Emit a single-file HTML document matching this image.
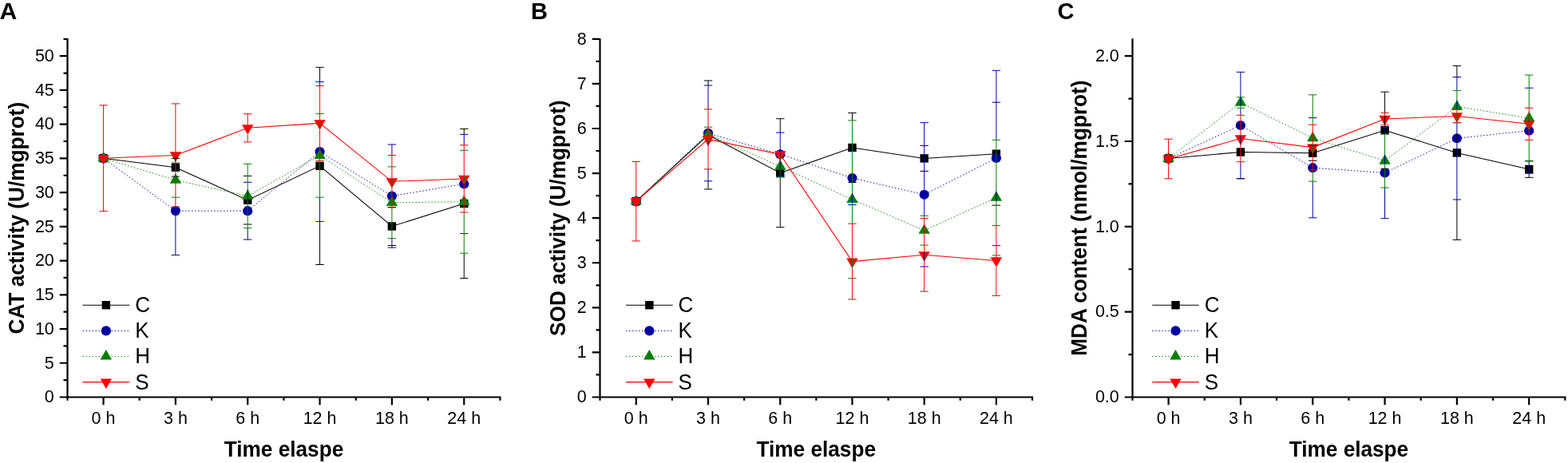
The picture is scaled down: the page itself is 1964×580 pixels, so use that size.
<!DOCTYPE html>
<html><head><meta charset="utf-8"><title>Chart</title>
<style>
html,body{margin:0;padding:0;background:#fff;}
body{width:1964px;height:580px;overflow:hidden;}
svg{display:block;}
text{font-family:"Liberation Sans", Arial, sans-serif;fill:#000;}
.tk{font-size:21.5px;}
.tt{font-size:26.2px;font-weight:bold;}
.lg{font-size:26px;}
.lb{font-size:29px;font-weight:bold;}
</style></head>
<body>
<svg width="1964" height="580" viewBox="0 0 1964 580">
<rect width="1964" height="580" fill="#fff"/>
<polyline points="129.55,198.2 219.89,209.7 310.23,250.7 400.57,207.9 490.91,283.5 581.25,255" fill="none" stroke="#000" stroke-width="1.05"/>
<polyline points="129.55,198.2 219.89,264.1 310.23,264.2 400.57,190 490.91,245.6 581.25,230.5" fill="none" stroke="#0000a0" stroke-width="0.9" stroke-dasharray="1.6 2.4"/>
<polyline points="129.55,198.2 219.89,225.6 310.23,245.5 400.57,194.8 490.91,253.8 581.25,252.75" fill="none" stroke="#008000" stroke-width="0.9" stroke-dasharray="1.6 2.4"/>
<polyline points="129.55,198.3 219.89,194.5 310.23,160.3 400.57,154.4 490.91,227.3 581.25,223.9" fill="none" stroke="#ff0000" stroke-width="1.05"/>
<rect x="124.35" y="193" width="10.4" height="10.4" fill="#000000"/>
<rect x="214.69" y="204.5" width="10.4" height="10.4" fill="#000000"/>
<rect x="305.03" y="245.5" width="10.4" height="10.4" fill="#000000"/>
<rect x="395.37" y="202.7" width="10.4" height="10.4" fill="#000000"/>
<rect x="485.71" y="278.3" width="10.4" height="10.4" fill="#000000"/>
<rect x="576.05" y="249.8" width="10.4" height="10.4" fill="#000000"/>
<circle cx="129.55" cy="198.2" r="6.1" fill="#0000a0"/>
<circle cx="219.89" cy="264.1" r="6.1" fill="#0000a0"/>
<circle cx="310.23" cy="264.2" r="6.1" fill="#0000a0"/>
<circle cx="400.57" cy="190" r="6.1" fill="#0000a0"/>
<circle cx="490.91" cy="245.6" r="6.1" fill="#0000a0"/>
<circle cx="581.25" cy="230.5" r="6.1" fill="#0000a0"/>
<polygon points="129.55,189.9 136.74,202.35 122.36,202.35" fill="#008000"/>
<polygon points="219.89,217.3 227.08,229.75 212.7,229.75" fill="#008000"/>
<polygon points="310.23,237.2 317.42,249.65 303.04,249.65" fill="#008000"/>
<polygon points="400.57,186.5 407.76,198.95 393.38,198.95" fill="#008000"/>
<polygon points="490.91,245.5 498.1,257.95 483.72,257.95" fill="#008000"/>
<polygon points="581.25,244.45 588.44,256.9 574.06,256.9" fill="#008000"/>
<polygon points="129.55,206.6 136.74,194.15 122.36,194.15" fill="#ff0000"/>
<polygon points="219.89,202.8 227.08,190.35 212.7,190.35" fill="#ff0000"/>
<polygon points="310.23,168.6 317.42,156.15 303.04,156.15" fill="#ff0000"/>
<polygon points="400.57,162.7 407.76,150.25 393.38,150.25" fill="#ff0000"/>
<polygon points="490.91,235.6 498.1,223.15 483.72,223.15" fill="#ff0000"/>
<polygon points="581.25,232.2 588.44,219.75 574.06,219.75" fill="#ff0000"/>
<path d="M219.89 198.3V202.8M400.57 84.3V102.6M400.57 277.4V331.5M581.25 161.4V168.4M581.25 317.2V348.6M214.69 198.3H225.09M214.69 221.1H225.09M305.03 220.4H315.43M305.03 281H315.43M395.37 84.3H405.77M395.37 331.5H405.77M485.71 259.5H496.11M485.71 307.5H496.11M576.05 161.4H586.45M576.05 348.6H586.45" stroke="#000000" stroke-width="1" fill="none"/>
<path d="M219.89 270.2V319.5M310.23 237.2V249.65M310.23 285.7V300.1M400.57 102.6V107.5M400.57 247.2V277.4M490.91 181V194.6M490.91 298.7V310.2M581.25 168.4V181.8M214.69 208.7H225.09M214.69 319.5H225.09M305.03 228.3H315.43M305.03 300.1H315.43M395.37 102.6H405.77M395.37 277.4H405.77M485.71 181H496.11M485.71 310.2H496.11M576.05 168.4H586.45M576.05 292.6H586.45" stroke="#0000a0" stroke-width="1" fill="none"/>
<path d="M310.23 205.3V237.2M310.23 249.65V285.7M400.57 150.25V162.7M400.57 201.3V247.2M490.91 223.15V235.6M490.91 260V298.7M581.25 219.75V232.2M581.25 266V317.2M214.69 204H225.09M214.69 247.2H225.09M305.03 205.3H315.43M305.03 285.7H315.43M395.37 142.4H405.77M395.37 247.2H405.77M485.71 208.9H496.11M485.71 298.7H496.11M576.05 188.3H586.45M576.05 317.2H586.45" stroke="#008000" stroke-width="1" fill="none"/>
<path d="M129.55 131.9V194.15M129.55 206.6V264.7M219.89 129.9V190.35M219.89 202.8V259.1M310.23 142.7V156.15M310.23 168.6V177.9M400.57 107.5V150.25M400.57 162.7V201.3M490.91 194.6V223.15M490.91 235.6V260M581.25 181.8V219.75M581.25 232.2V266M124.35 131.9H134.75M124.35 264.7H134.75M214.69 129.9H225.09M214.69 259.1H225.09M305.03 142.7H315.43M305.03 177.9H315.43M395.37 107.5H405.77M395.37 201.3H405.77M485.71 194.6H496.11M485.71 260H496.11M576.05 181.8H586.45M576.05 266H586.45" stroke="#ff0000" stroke-width="1" fill="none"/>
<path d="M84.5 48.2V501.8M74.7 497.5H627.52M79.5 476.13H84.5M74.7 454.77H84.5M79.5 433.4H84.5M74.7 412.03H84.5M79.5 390.67H84.5M74.7 369.3H84.5M79.5 347.93H84.5M74.7 326.57H84.5M79.5 305.2H84.5M74.7 283.83H84.5M79.5 262.47H84.5M74.7 241.1H84.5M79.5 219.73H84.5M74.7 198.37H84.5M79.5 177H84.5M74.7 155.63H84.5M79.5 134.27H84.5M74.7 112.9H84.5M79.5 91.53H84.5M74.7 70.17H84.5M79.5 48.8H84.5M129.55 497.5V507.3M219.89 497.5V507.3M310.23 497.5V507.3M400.57 497.5V507.3M490.91 497.5V507.3M581.25 497.5V507.3M174.72 497.5V501.8M265.06 497.5V501.8M355.4 497.5V501.8M445.74 497.5V501.8M536.08 497.5V501.8M626.42 497.5V501.8" stroke="#000" stroke-width="2.2" fill="none"/>
<text transform="translate(67.8 504.3) scale(1 1.05)" class="tk" text-anchor="end">0</text>
<text transform="translate(67.8 461.57) scale(1 1.05)" class="tk" text-anchor="end">5</text>
<text transform="translate(67.8 418.83) scale(1 1.05)" class="tk" text-anchor="end">10</text>
<text transform="translate(67.8 376.1) scale(1 1.05)" class="tk" text-anchor="end">15</text>
<text transform="translate(67.8 333.37) scale(1 1.05)" class="tk" text-anchor="end">20</text>
<text transform="translate(67.8 290.63) scale(1 1.05)" class="tk" text-anchor="end">25</text>
<text transform="translate(67.8 247.9) scale(1 1.05)" class="tk" text-anchor="end">30</text>
<text transform="translate(67.8 205.17) scale(1 1.05)" class="tk" text-anchor="end">35</text>
<text transform="translate(67.8 162.43) scale(1 1.05)" class="tk" text-anchor="end">40</text>
<text transform="translate(67.8 119.7) scale(1 1.05)" class="tk" text-anchor="end">45</text>
<text transform="translate(67.8 76.97) scale(1 1.05)" class="tk" text-anchor="end">50</text>
<text transform="translate(129.55 530.5) scale(1 1.05)" class="tk" text-anchor="middle">0 h</text>
<text transform="translate(219.89 530.5) scale(1 1.05)" class="tk" text-anchor="middle">3 h</text>
<text transform="translate(310.23 530.5) scale(1 1.05)" class="tk" text-anchor="middle">6 h</text>
<text transform="translate(400.57 530.5) scale(1 1.05)" class="tk" text-anchor="middle">12 h</text>
<text transform="translate(490.91 530.5) scale(1 1.05)" class="tk" text-anchor="middle">18 h</text>
<text transform="translate(581.25 530.5) scale(1 1.05)" class="tk" text-anchor="middle">24 h</text>
<text transform="translate(355.46 571.5) scale(1 1.05)" class="tt" text-anchor="middle">Time elaspe</text>
<text transform="translate(30.3 273.15) rotate(-90) scale(1 1.05)" class="tt" text-anchor="middle">CAT activity (U/mgprot)</text>
<text transform="translate(-0.6 23.6) scale(1.04 1.04)" class="lb">A</text>
<line x1="103.5" y1="382.2" x2="162.2" y2="382.2" stroke="#000" stroke-width="1.05"/>
<rect x="127.65" y="377" width="10.4" height="10.4" fill="#000000"/>
<text transform="translate(169.2 391.2) scale(1 1.05)" class="lg">C</text>
<line x1="103.5" y1="414.4" x2="162.2" y2="414.4" stroke="#0000a0" stroke-width="0.9" stroke-dasharray="1.6 2.4"/>
<circle cx="132.85" cy="414.4" r="6.1" fill="#0000a0"/>
<text transform="translate(169.2 423.4) scale(1 1.05)" class="lg">K</text>
<line x1="103.5" y1="446.4" x2="162.2" y2="446.4" stroke="#008000" stroke-width="0.9" stroke-dasharray="1.6 2.4"/>
<polygon points="132.85,438.1 140.04,450.55 125.66,450.55" fill="#008000"/>
<text transform="translate(169.2 455.4) scale(1 1.05)" class="lg">H</text>
<line x1="103.5" y1="478.6" x2="162.2" y2="478.6" stroke="#ff0000" stroke-width="1.05"/>
<polygon points="132.85,486.9 140.04,474.45 125.66,474.45" fill="#ff0000"/>
<text transform="translate(169.2 487.6) scale(1 1.05)" class="lg">S</text>
<polyline points="796.8,252.2 887.02,169 977.24,216.7 1067.46,185 1157.68,198.4 1247.9,192.7" fill="none" stroke="#000" stroke-width="1.05"/>
<polyline points="796.8,252.2 887.02,166.9 977.24,193.3 1067.46,223 1157.68,243.8 1247.9,198" fill="none" stroke="#0000a0" stroke-width="0.9" stroke-dasharray="1.6 2.4"/>
<polyline points="796.8,252.2 887.02,168.2 977.24,208.6 1067.46,249.8 1157.68,288.7 1247.9,247.6" fill="none" stroke="#008000" stroke-width="0.9" stroke-dasharray="1.6 2.4"/>
<polyline points="796.8,252.2 887.02,174.4 977.24,193.4 1067.46,327.6 1157.68,319.3 1247.9,326.5" fill="none" stroke="#ff0000" stroke-width="1.05"/>
<rect x="791.6" y="247" width="10.4" height="10.4" fill="#000000"/>
<rect x="881.82" y="163.8" width="10.4" height="10.4" fill="#000000"/>
<rect x="972.04" y="211.5" width="10.4" height="10.4" fill="#000000"/>
<rect x="1062.26" y="179.8" width="10.4" height="10.4" fill="#000000"/>
<rect x="1152.48" y="193.2" width="10.4" height="10.4" fill="#000000"/>
<rect x="1242.7" y="187.5" width="10.4" height="10.4" fill="#000000"/>
<circle cx="796.8" cy="252.2" r="6.1" fill="#0000a0"/>
<circle cx="887.02" cy="166.9" r="6.1" fill="#0000a0"/>
<circle cx="977.24" cy="193.3" r="6.1" fill="#0000a0"/>
<circle cx="1067.46" cy="223" r="6.1" fill="#0000a0"/>
<circle cx="1157.68" cy="243.8" r="6.1" fill="#0000a0"/>
<circle cx="1247.9" cy="198" r="6.1" fill="#0000a0"/>
<polygon points="796.8,243.9 803.99,256.35 789.61,256.35" fill="#008000"/>
<polygon points="887.02,159.9 894.21,172.35 879.83,172.35" fill="#008000"/>
<polygon points="977.24,200.3 984.43,212.75 970.05,212.75" fill="#008000"/>
<polygon points="1067.46,241.5 1074.65,253.95 1060.27,253.95" fill="#008000"/>
<polygon points="1157.68,280.4 1164.87,292.85 1150.49,292.85" fill="#008000"/>
<polygon points="1247.9,239.3 1255.09,251.75 1240.71,251.75" fill="#008000"/>
<polygon points="796.8,260.5 803.99,248.05 789.61,248.05" fill="#ff0000"/>
<polygon points="887.02,182.7 894.21,170.25 879.83,170.25" fill="#ff0000"/>
<polygon points="977.24,201.7 984.43,189.25 970.05,189.25" fill="#ff0000"/>
<polygon points="1067.46,335.9 1074.65,323.45 1060.27,323.45" fill="#ff0000"/>
<polygon points="1157.68,327.6 1164.87,315.15 1150.49,315.15" fill="#ff0000"/>
<polygon points="1247.9,334.8 1255.09,322.35 1240.71,322.35" fill="#ff0000"/>
<path d="M887.02 101V107M887.02 226.8V237M977.24 148.7V166.1M977.24 187.2V195.2M977.24 222V284.7M1067.46 141.4V150.9M881.82 101H892.22M881.82 237H892.22M972.04 148.7H982.44M972.04 284.7H982.44M1062.26 141.4H1072.66M1062.26 228.6H1072.66M1152.48 182.4H1162.88M1152.48 214.4H1162.88M1242.7 128.2H1253.1M1242.7 257.2H1253.1" stroke="#000000" stroke-width="1" fill="none"/>
<path d="M887.02 107V136.9M887.02 177.2V182.7M887.02 211.9V226.8M977.24 166.1V187.2M977.24 200.3V212.75M1067.46 241.5V253.95M1157.68 153.6V237.7M1157.68 249.9V270.3M1157.68 315.15V327.6M1247.9 88.3V175.3M1247.9 239.3V251.75M881.82 107H892.22M881.82 226.8H892.22M972.04 166.1H982.44M972.04 220.5H982.44M1062.26 189.5H1072.66M1062.26 256.5H1072.66M1152.48 153.6H1162.88M1152.48 334H1162.88M1242.7 88.3H1253.1M1242.7 307.7H1253.1" stroke="#0000a0" stroke-width="1" fill="none"/>
<path d="M887.02 172.35V177.2M977.24 195.2V200.3M977.24 212.75V222M1067.46 150.9V241.5M1067.46 253.95V280.2M1067.46 323.45V335.9M1157.68 270.3V273.5M1247.9 175.3V239.3M1247.9 251.75V282.6M881.82 159.2H892.22M881.82 177.2H892.22M972.04 195.2H982.44M972.04 222H982.44M1062.26 150.9H1072.66M1062.26 348.7H1072.66M1152.48 270.3H1162.88M1152.48 307.1H1162.88M1242.7 175.3H1253.1M1242.7 319.9H1253.1" stroke="#008000" stroke-width="1" fill="none"/>
<path d="M796.8 202.5V248.05M796.8 260.5V301.9M887.02 136.9V170.25M887.02 182.7V211.9M1067.46 280.2V323.45M1067.46 335.9V375M1157.68 273.5V315.15M1157.68 327.6V365.1M1247.9 282.6V322.35M1247.9 334.8V370.4M791.6 202.5H802M791.6 301.9H802M881.82 136.9H892.22M881.82 211.9H892.22M972.04 191.4H982.44M972.04 195.4H982.44M1062.26 280.2H1072.66M1062.26 375H1072.66M1152.48 273.5H1162.88M1152.48 365.1H1162.88M1242.7 282.6H1253.1M1242.7 370.4H1253.1" stroke="#ff0000" stroke-width="1" fill="none"/>
<path d="M751.5 48.2V501.8M741.7 497.5H1294.11M746.5 469.46H751.5M741.7 441.41H751.5M746.5 413.37H751.5M741.7 385.32H751.5M746.5 357.28H751.5M741.7 329.24H751.5M746.5 301.19H751.5M741.7 273.15H751.5M746.5 245.11H751.5M741.7 217.06H751.5M746.5 189.02H751.5M741.7 160.98H751.5M746.5 132.93H751.5M741.7 104.89H751.5M746.5 76.84H751.5M741.7 48.8H751.5M796.8 497.5V507.3M887.02 497.5V507.3M977.24 497.5V507.3M1067.46 497.5V507.3M1157.68 497.5V507.3M1247.9 497.5V507.3M841.91 497.5V501.8M932.13 497.5V501.8M1022.35 497.5V501.8M1112.57 497.5V501.8M1202.79 497.5V501.8M1293.01 497.5V501.8" stroke="#000" stroke-width="2.2" fill="none"/>
<text transform="translate(734.8 504.3) scale(1 1.05)" class="tk" text-anchor="end">0</text>
<text transform="translate(734.8 448.21) scale(1 1.05)" class="tk" text-anchor="end">1</text>
<text transform="translate(734.8 392.12) scale(1 1.05)" class="tk" text-anchor="end">2</text>
<text transform="translate(734.8 336.04) scale(1 1.05)" class="tk" text-anchor="end">3</text>
<text transform="translate(734.8 279.95) scale(1 1.05)" class="tk" text-anchor="end">4</text>
<text transform="translate(734.8 223.86) scale(1 1.05)" class="tk" text-anchor="end">5</text>
<text transform="translate(734.8 167.78) scale(1 1.05)" class="tk" text-anchor="end">6</text>
<text transform="translate(734.8 111.69) scale(1 1.05)" class="tk" text-anchor="end">7</text>
<text transform="translate(734.8 55.6) scale(1 1.05)" class="tk" text-anchor="end">8</text>
<text transform="translate(796.8 530.5) scale(1 1.05)" class="tk" text-anchor="middle">0 h</text>
<text transform="translate(887.02 530.5) scale(1 1.05)" class="tk" text-anchor="middle">3 h</text>
<text transform="translate(977.24 530.5) scale(1 1.05)" class="tk" text-anchor="middle">6 h</text>
<text transform="translate(1067.46 530.5) scale(1 1.05)" class="tk" text-anchor="middle">12 h</text>
<text transform="translate(1157.68 530.5) scale(1 1.05)" class="tk" text-anchor="middle">18 h</text>
<text transform="translate(1247.9 530.5) scale(1 1.05)" class="tk" text-anchor="middle">24 h</text>
<text transform="translate(1022.25 571.5) scale(1 1.05)" class="tt" text-anchor="middle">Time elaspe</text>
<text transform="translate(707.7 273.15) rotate(-90) scale(1 1.05)" class="tt" text-anchor="middle">SOD activity (U/mgprot)</text>
<text transform="translate(665 23.6) scale(1 1.04)" class="lb">B</text>
<line x1="784" y1="382.2" x2="842.7" y2="382.2" stroke="#000" stroke-width="1.05"/>
<rect x="808.15" y="377" width="10.4" height="10.4" fill="#000000"/>
<text transform="translate(849.6 391.2) scale(1 1.05)" class="lg">C</text>
<line x1="784" y1="414.4" x2="842.7" y2="414.4" stroke="#0000a0" stroke-width="0.9" stroke-dasharray="1.6 2.4"/>
<circle cx="813.35" cy="414.4" r="6.1" fill="#0000a0"/>
<text transform="translate(849.6 423.4) scale(1 1.05)" class="lg">K</text>
<line x1="784" y1="446.4" x2="842.7" y2="446.4" stroke="#008000" stroke-width="0.9" stroke-dasharray="1.6 2.4"/>
<polygon points="813.35,438.1 820.54,450.55 806.16,450.55" fill="#008000"/>
<text transform="translate(849.6 455.4) scale(1 1.05)" class="lg">H</text>
<line x1="784" y1="478.6" x2="842.7" y2="478.6" stroke="#ff0000" stroke-width="1.05"/>
<polygon points="813.35,486.9 820.54,474.45 806.16,474.45" fill="#ff0000"/>
<text transform="translate(849.6 487.6) scale(1 1.05)" class="lg">S</text>
<polyline points="1463.6,198.5 1553.92,190.5 1644.24,191.7 1734.56,163.2 1824.88,191.4 1915.2,212" fill="none" stroke="#000" stroke-width="1.05"/>
<polyline points="1463.6,198.5 1553.92,157 1644.24,210.2 1734.56,216.5 1824.88,173.25 1915.2,163.7" fill="none" stroke="#0000a0" stroke-width="0.9" stroke-dasharray="1.6 2.4"/>
<polyline points="1463.6,198.5 1553.92,128.5 1644.24,173 1734.56,201.5 1824.88,133.5 1915.2,148" fill="none" stroke="#008000" stroke-width="0.9" stroke-dasharray="1.6 2.4"/>
<polyline points="1463.6,199 1553.92,173.5 1644.24,184.6 1734.56,149 1824.88,145.5 1915.2,155.3" fill="none" stroke="#ff0000" stroke-width="1.05"/>
<rect x="1458.4" y="193.3" width="10.4" height="10.4" fill="#000000"/>
<rect x="1548.72" y="185.3" width="10.4" height="10.4" fill="#000000"/>
<rect x="1639.04" y="186.5" width="10.4" height="10.4" fill="#000000"/>
<rect x="1729.36" y="158" width="10.4" height="10.4" fill="#000000"/>
<rect x="1819.68" y="186.2" width="10.4" height="10.4" fill="#000000"/>
<rect x="1910" y="206.8" width="10.4" height="10.4" fill="#000000"/>
<circle cx="1463.6" cy="198.5" r="6.1" fill="#0000a0"/>
<circle cx="1553.92" cy="157" r="6.1" fill="#0000a0"/>
<circle cx="1644.24" cy="210.2" r="6.1" fill="#0000a0"/>
<circle cx="1734.56" cy="216.5" r="6.1" fill="#0000a0"/>
<circle cx="1824.88" cy="173.25" r="6.1" fill="#0000a0"/>
<circle cx="1915.2" cy="163.7" r="6.1" fill="#0000a0"/>
<polygon points="1463.6,190.2 1470.79,202.65 1456.41,202.65" fill="#008000"/>
<polygon points="1553.92,120.2 1561.11,132.65 1546.73,132.65" fill="#008000"/>
<polygon points="1644.24,164.7 1651.43,177.15 1637.05,177.15" fill="#008000"/>
<polygon points="1734.56,193.2 1741.75,205.65 1727.37,205.65" fill="#008000"/>
<polygon points="1824.88,125.2 1832.07,137.65 1817.69,137.65" fill="#008000"/>
<polygon points="1915.2,139.7 1922.39,152.15 1908.01,152.15" fill="#008000"/>
<polygon points="1463.6,207.3 1470.79,194.85 1456.41,194.85" fill="#ff0000"/>
<polygon points="1553.92,181.8 1561.11,169.35 1546.73,169.35" fill="#ff0000"/>
<polygon points="1644.24,192.9 1651.43,180.45 1637.05,180.45" fill="#ff0000"/>
<polygon points="1734.56,157.3 1741.75,144.85 1727.37,144.85" fill="#ff0000"/>
<polygon points="1824.88,153.8 1832.07,141.35 1817.69,141.35" fill="#ff0000"/>
<polygon points="1915.2,163.6 1922.39,151.15 1908.01,151.15" fill="#ff0000"/>
<path d="M1734.56 115.1V141.3M1734.56 144.85V158M1824.88 82.4V96.5M1824.88 167.15V179.35M1824.88 250V300.4M1915.2 217.2V222.4M1548.72 157.2H1559.12M1548.72 223.8H1559.12M1639.04 182.1H1649.44M1639.04 201.3H1649.44M1729.36 115.1H1739.76M1729.36 211.3H1739.76M1819.68 82.4H1830.08M1819.68 300.4H1830.08M1910 201.6H1920.4M1910 222.4H1920.4" stroke="#000000" stroke-width="1" fill="none"/>
<path d="M1553.92 90.3V132.65M1553.92 135.2V144.3M1553.92 169.35V181.8M1553.92 202.7V223.7M1644.24 227.2V272.8M1734.56 159.3V167.9M1734.56 193.2V205.65M1734.56 235.1V273.7M1824.88 96.5V113.4M1824.88 125.2V137.2M1824.88 153.6V167.15M1824.88 179.35V250M1915.2 151.15V152.15M1915.2 202V217.2M1548.72 90.3H1559.12M1548.72 223.7H1559.12M1639.04 147.6H1649.44M1639.04 272.8H1649.44M1729.36 159.3H1739.76M1729.36 273.7H1739.76M1819.68 96.5H1830.08M1819.68 250H1830.08M1910 110.2H1920.4M1910 217.2H1920.4" stroke="#0000a0" stroke-width="1" fill="none"/>
<path d="M1553.92 132.65V135.2M1644.24 118.8V156.2M1644.24 180.45V192.9M1644.24 213V227.2M1734.56 167.9V193.2M1734.56 205.65V235.1M1824.88 113.4V125.2M1824.88 141.35V153.6M1915.2 94V135.3M1915.2 152.15V163.6M1915.2 175.3V202M1548.72 121.8H1559.12M1548.72 135.2H1559.12M1639.04 118.8H1649.44M1639.04 227.2H1649.44M1729.36 167.9H1739.76M1729.36 235.1H1739.76M1819.68 113.4H1830.08M1819.68 153.6H1830.08M1910 94H1920.4M1910 202H1920.4" stroke="#008000" stroke-width="1" fill="none"/>
<path d="M1463.6 174.2V194.85M1463.6 207.3V223.8M1553.92 144.3V169.35M1553.92 181.8V202.7M1644.24 156.2V180.45M1644.24 192.9V213M1734.56 141.3V144.85M1824.88 137.2V141.35M1915.2 135.3V151.15M1915.2 163.6V175.3M1458.4 174.2H1468.8M1458.4 223.8H1468.8M1548.72 144.3H1559.12M1548.72 202.7H1559.12M1639.04 156.2H1649.44M1639.04 213H1649.44M1729.36 141.3H1739.76M1729.36 156.7H1739.76M1819.68 137.2H1830.08M1819.68 153.8H1830.08M1910 135.3H1920.4M1910 175.3H1920.4" stroke="#ff0000" stroke-width="1" fill="none"/>
<path d="M1418.5 48.2V501.8M1408.7 497.5H1961.46M1413.5 444.08H1418.5M1408.7 390.67H1418.5M1413.5 337.25H1418.5M1408.7 283.83H1418.5M1413.5 230.42H1418.5M1408.7 177H1418.5M1413.5 123.58H1418.5M1408.7 70.17H1418.5M1463.6 497.5V507.3M1553.92 497.5V507.3M1644.24 497.5V507.3M1734.56 497.5V507.3M1824.88 497.5V507.3M1915.2 497.5V507.3M1508.76 497.5V501.8M1599.08 497.5V501.8M1689.4 497.5V501.8M1779.72 497.5V501.8M1870.04 497.5V501.8M1960.36 497.5V501.8" stroke="#000" stroke-width="2.2" fill="none"/>
<text transform="translate(1401.8 504.3) scale(1 1.05)" class="tk" text-anchor="end">0.0</text>
<text transform="translate(1401.8 397.47) scale(1 1.05)" class="tk" text-anchor="end">0.5</text>
<text transform="translate(1401.8 290.63) scale(1 1.05)" class="tk" text-anchor="end">1.0</text>
<text transform="translate(1401.8 183.8) scale(1 1.05)" class="tk" text-anchor="end">1.5</text>
<text transform="translate(1401.8 76.97) scale(1 1.05)" class="tk" text-anchor="end">2.0</text>
<text transform="translate(1463.6 530.5) scale(1 1.05)" class="tk" text-anchor="middle">0 h</text>
<text transform="translate(1553.92 530.5) scale(1 1.05)" class="tk" text-anchor="middle">3 h</text>
<text transform="translate(1644.24 530.5) scale(1 1.05)" class="tk" text-anchor="middle">6 h</text>
<text transform="translate(1734.56 530.5) scale(1 1.05)" class="tk" text-anchor="middle">12 h</text>
<text transform="translate(1824.88 530.5) scale(1 1.05)" class="tk" text-anchor="middle">18 h</text>
<text transform="translate(1915.2 530.5) scale(1 1.05)" class="tk" text-anchor="middle">24 h</text>
<text transform="translate(1689.43 571.5) scale(1 1.05)" class="tt" text-anchor="middle">Time elaspe</text>
<text transform="translate(1361 273.15) rotate(-90) scale(1 1.05)" class="tt" text-anchor="middle">MDA content (nmol/mgprot)</text>
<text transform="translate(1324.6 23.6) scale(1 1.04)" class="lb">C</text>
<line x1="1443.2" y1="382.2" x2="1501.8" y2="382.2" stroke="#000" stroke-width="1.05"/>
<rect x="1467.3" y="377" width="10.4" height="10.4" fill="#000000"/>
<text transform="translate(1508.8 391.2) scale(1 1.05)" class="lg">C</text>
<line x1="1443.2" y1="414.4" x2="1501.8" y2="414.4" stroke="#0000a0" stroke-width="0.9" stroke-dasharray="1.6 2.4"/>
<circle cx="1472.5" cy="414.4" r="6.1" fill="#0000a0"/>
<text transform="translate(1508.8 423.4) scale(1 1.05)" class="lg">K</text>
<line x1="1443.2" y1="446.4" x2="1501.8" y2="446.4" stroke="#008000" stroke-width="0.9" stroke-dasharray="1.6 2.4"/>
<polygon points="1472.5,438.1 1479.69,450.55 1465.31,450.55" fill="#008000"/>
<text transform="translate(1508.8 455.4) scale(1 1.05)" class="lg">H</text>
<line x1="1443.2" y1="478.6" x2="1501.8" y2="478.6" stroke="#ff0000" stroke-width="1.05"/>
<polygon points="1472.5,486.9 1479.69,474.45 1465.31,474.45" fill="#ff0000"/>
<text transform="translate(1508.8 487.6) scale(1 1.05)" class="lg">S</text>
</svg>
</body></html>
